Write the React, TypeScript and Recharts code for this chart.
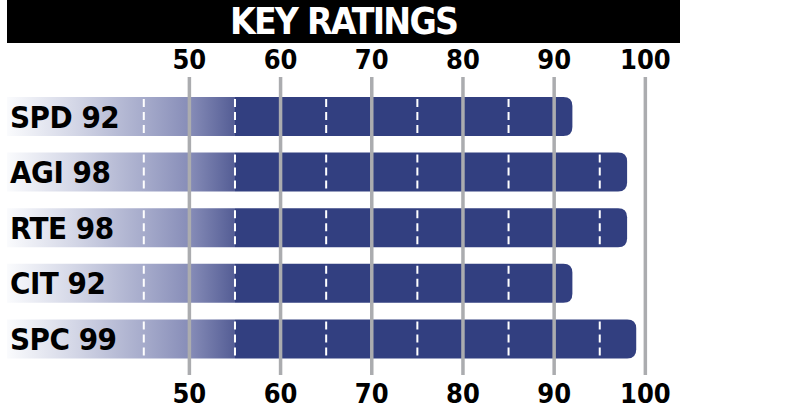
import { BarChart, Bar, XAxis, YAxis, ReferenceLine } from 'recharts';

const categories = ['SPD', 'AGI', 'RTE', 'CIT', 'SPC'];
const ratings = [92, 98, 98, 92, 99];
const axisTicks = [50, 60, 70, 80, 90, 100];
const dividerTicks = [45, 55, 65, 75, 85, 95];
const domainMin = 30;
const domainMax = 103.8;

const data = categories.map((name, i) => ({ name, value: ratings[i] }));

const NAVY = '#323f80';
const FONT = "'DejaVu Sans Condensed', 'DejaVu Sans', sans-serif";

function RatingBar(props: any) {
  const { x, y, width, height, value, index, name } = props;
  const perUnit = width / (value - domainMin);
  const fadeEnd = Math.min(1, (55 - domainMin) / (value - domainMin));
  const r = 9;
  const id = `fade-${index}`;
  const path = `M${x},${y} H${x + width - r} Q${x + width},${y} ${x + width},${y + r} V${y + height - r} Q${x + width},${y + height} ${x + width - r},${y + height} H${x} Z`;
  return (
    <g>
      <defs>
        <linearGradient id={id} x1="0" y1="0" x2="1" y2="0">
          <stop offset={0} stopColor="#fafbfd" />
          <stop offset={fadeEnd * 0.3} stopColor="#d3d6e6" />
          <stop offset={fadeEnd * 0.6} stopColor="#a6abcb" />
          <stop offset={fadeEnd * 0.8} stopColor="#878db8" />
          <stop offset={fadeEnd * 0.999} stopColor="#545d95" />
          <stop offset={fadeEnd} stopColor={NAVY} />
          <stop offset={1} stopColor={NAVY} />
        </linearGradient>
      </defs>
      <path d={path} fill={`url(#${id})`} />
      {dividerTicks
        .filter((t) => t < value)
        .map((t) => {
          const lx = x + (t - domainMin) * perUnit;
          return (
            <line
              key={t}
              x1={lx}
              x2={lx}
              y1={y + 2}
              y2={y + height}
              stroke="#ffffff"
              strokeWidth={2}
              strokeDasharray="8 5"
            />
          );
        })}
      <text
        x={10}
        y={y + height / 2 + 11}
        fontFamily={FONT}
        fontWeight="bold"
        fontSize={31}
        fill="#000"
        letterSpacing={-0.5}
      >
        {`${name} ${value}`}
      </text>
    </g>
  );
}

function TopTick(props: any) {
  const { x, y, payload } = props;
  return (
    <text x={x} y={y} textAnchor="middle" fontFamily={FONT} fontWeight="bold" fontSize={27} fill="#000">
      {payload.value}
    </text>
  );
}

function BottomLabel(props: any) {
  const { viewBox, value } = props;
  return (
    <text
      x={viewBox.x}
      y={viewBox.y + viewBox.height + 28}
      textAnchor="middle"
      fontFamily={FONT}
      fontWeight="bold"
      fontSize={27}
      fill="#000"
    >
      {value}
    </text>
  );
}

export default function App() {
  return (
    <div style={{ position: 'absolute', left: 0, top: 0, width: 785, height: 415, background: '#fff' }}>
      <div
        style={{
          position: 'absolute',
          left: 7,
          top: 0,
          width: 673,
          height: 43,
          background: '#000',
          color: '#fff',
          fontFamily: FONT,
          fontWeight: 'bold',
          fontSize: 37,
          letterSpacing: -1.8,
          lineHeight: '43px',
          textAlign: 'center',
        }}
      >
        KEY RATINGS
      </div>
      <BarChart
        width={785}
        height={415}
        data={data}
        layout="vertical"
        margin={{ top: 47, right: 105, bottom: 40, left: 7 }}
      >
        <XAxis
          xAxisId="top"
          orientation="top"
          type="number"
          domain={[domainMin, domainMax]}
          ticks={axisTicks}
          axisLine={false}
          tickLine={false}
          height={30}
          tick={<TopTick />}
          interval={0}
        />
        <YAxis type="category" dataKey="name" hide padding={{ top: 12, bottom: 8 }} />
        <Bar dataKey="value" xAxisId="top" barSize={39} shape={<RatingBar />} isAnimationActive={false} />
        {axisTicks.map((t) => (
          <ReferenceLine
            key={t}
            x={t}
            xAxisId="top"
            stroke="#abacaf"
            strokeWidth={3.5}
            label={<BottomLabel value={t} />}
          />
        ))}
      </BarChart>
    </div>
  );
}
